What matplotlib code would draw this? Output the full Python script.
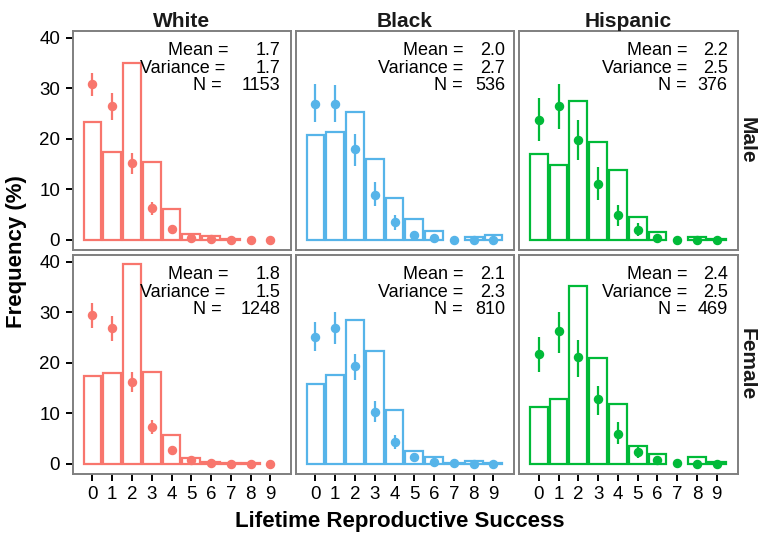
import numpy as np
import matplotlib
matplotlib.use("Agg")
import matplotlib.pyplot as plt

plt.rcParams['font.family'] = ['Liberation Sans', 'DejaVu Sans']

races = ["White", "Black", "Hispanic"]
sexes = ["Male", "Female"]
colors = {"White": "#F8766D", "Black": "#56B4E9", "Hispanic": "#00BA38"}
x_vals = list(range(10))
nan = np.nan

# Observed frequency (%) bars
bars_male_white    = [23.4, 17.4, 35.0, 15.5, 6.2, 1.1, 0.8, 0.15, nan, nan]
bars_male_black    = [20.8, 21.3, 25.2, 16.0, 8.3, 4.1, 1.8, nan, 0.65, 0.9]
bars_male_hispanic = [16.9, 14.8, 27.4, 19.3, 13.9, 4.5, 1.6, nan, 0.65, 0.26]
bars_female_white    = [17.3, 17.9, 39.5, 18.1, 5.7, 1.25, 0.3, 0.2, 0.2, nan]
bars_female_black    = [15.9, 17.5, 28.4, 22.4, 10.6, 2.6, 1.4, 0.15, 0.6, 0.2]
bars_female_hispanic = [11.3, 12.8, 35.2, 20.9, 11.9, 3.6, 1.9, nan, 1.4, 0.45]

# Expected points with intervals
pts_male_white = [30.8, 26.5, 15.2, 6.4, 2.1, 0.3, 0.15, 0.05, 0.0, 0.0]
lo_male_white  = [28.4, 23.8, 13.0, 4.9, 1.4, 0.0, 0.0, 0.0, 0.0, 0.0]
hi_male_white  = [33.0, 29.0, 17.2, 7.5, 2.8, 0.6, 0.3, 0.1, 0.0, 0.0]

pts_male_black = [26.9, 26.9, 17.9, 8.9, 3.5, 1.05, 0.3, 0.0, 0.0, 0.0]
lo_male_black  = [23.4, 23.3, 14.6, 6.7, 2.0, 0.3, 0.0, 0.0, 0.0, 0.0]
hi_male_black  = [30.9, 30.7, 20.9, 11.4, 4.9, 1.8, 0.6, 0.0, 0.0, 0.0]

pts_male_hispanic = [23.8, 26.5, 19.8, 11.1, 5.0, 1.9, 0.4, 0.0, 0.0, 0.0]
lo_male_hispanic  = [19.6, 21.9, 15.9, 7.9, 2.8, 0.8, 0.0, 0.0, 0.0, 0.0]
hi_male_hispanic  = [28.0, 30.9, 23.8, 14.4, 7.0, 3.3, 0.9, 0.0, 0.0, 0.0]

pts_female_white = [29.5, 26.8, 16.3, 7.4, 2.7, 0.7, 0.25, 0.05, 0.05, 0.0]
lo_female_white  = [26.8, 24.4, 14.3, 5.9, 2.0, 0.3, 0.0, 0.0, 0.0, 0.0]
hi_female_white  = [31.8, 29.2, 18.2, 8.7, 3.4, 1.1, 0.5, 0.1, 0.1, 0.0]

pts_female_black = [25.1, 26.8, 19.4, 10.3, 4.4, 1.45, 0.45, 0.1, 0.0, 0.0]
lo_female_black  = [22.4, 23.8, 16.5, 8.2, 3.0, 0.7, 0.1, 0.0, 0.0, 0.0]
hi_female_black  = [28.0, 30.0, 21.8, 12.5, 5.7, 2.2, 0.8, 0.2, 0.0, 0.0]

pts_female_hispanic = [21.7, 26.3, 21.1, 12.8, 6.0, 2.4, 0.85, 0.25, 0.0, 0.0]
lo_female_hispanic  = [18.2, 22.0, 17.1, 9.6, 4.0, 1.1, 0.2, 0.0, 0.0, 0.0]
hi_female_hispanic  = [25.1, 30.0, 24.6, 15.4, 8.2, 3.6, 1.5, 0.5, 0.0, 0.0]

mean_vals = {("Male", "White"): 1.7, ("Male", "Black"): 2.0, ("Male", "Hispanic"): 2.2,
             ("Female", "White"): 1.8, ("Female", "Black"): 2.1, ("Female", "Hispanic"): 2.4}
var_vals = {("Male", "White"): 1.7, ("Male", "Black"): 2.7, ("Male", "Hispanic"): 2.5,
            ("Female", "White"): 1.5, ("Female", "Black"): 2.3, ("Female", "Hispanic"): 2.5}
n_vals = {("Male", "White"): 1153, ("Male", "Black"): 536, ("Male", "Hispanic"): 376,
          ("Female", "White"): 1248, ("Female", "Black"): 810, ("Female", "Hispanic"): 469}

data = {
    ("Male", "White"): (bars_male_white, pts_male_white, lo_male_white, hi_male_white),
    ("Male", "Black"): (bars_male_black, pts_male_black, lo_male_black, hi_male_black),
    ("Male", "Hispanic"): (bars_male_hispanic, pts_male_hispanic, lo_male_hispanic, hi_male_hispanic),
    ("Female", "White"): (bars_female_white, pts_female_white, lo_female_white, hi_female_white),
    ("Female", "Black"): (bars_female_black, pts_female_black, lo_female_black, hi_female_black),
    ("Female", "Hispanic"): (bars_female_hispanic, pts_female_hispanic, lo_female_hispanic, hi_female_hispanic),
}

W, H = 758, 533
fig = plt.figure(figsize=(W / 100, H / 100), dpi=100)

col_left = [72.7, 295.7, 519.0]
pw = 218.5
row_top = [31.0, 255.0]
ph = 218.7

# label column right positions (axes fraction) per column / line
label_x = {"White": [0.712, 0.700, 0.682], "Black": [0.766, 0.766, 0.764], "Hispanic": [0.769, 0.769, 0.767]}
value_x = {"White": 0.950, "Black": 0.958, "Hispanic": 0.955}
line_y = [0.890, 0.807, 0.730]

for r, sex in enumerate(sexes):
    for c, race in enumerate(races):
        ax = fig.add_axes([col_left[c] / W, 1 - (row_top[r] + ph) / H, pw / W, ph / H])
        bars, pts, lo, hi = data[(sex, race)]
        col = colors[race]
        bx = [x for x, b in zip(x_vals, bars) if not np.isnan(b)]
        bh = [b for b in bars if not np.isnan(b)]
        ax.bar(bx, bh, width=0.9, fill=False, edgecolor=col, linewidth=1.6, zorder=2)
        pts_a = np.array(pts)
        yerr = np.vstack([pts_a - np.array(lo), np.array(hi) - pts_a])
        yerr = np.clip(yerr, 0, None)
        ax.errorbar(x_vals, pts, yerr=yerr, fmt='o', color=col, ms=5.8,
                    elinewidth=1.6, capsize=0, zorder=3)
        ax.set_xlim(-1.0, 10.05)
        ax.set_ylim(-1.92, 41.3)
        for s in ax.spines.values():
            s.set_color('#7F7F7F')
            s.set_linewidth(1.4)
        ax.tick_params(axis='both', length=5, width=1.4, color='black',
                       labelsize=13.5, pad=4)
        ax.set_xticks(x_vals)
        ax.set_yticks([0, 10, 20, 30, 40])
        if r == 1:
            ax.set_xticklabels([str(v) for v in x_vals])
        else:
            ax.tick_params(axis='x', length=0, labelbottom=False)
        if c != 0:
            ax.tick_params(axis='y', length=0, labelleft=False)

        lbls = ["Mean =", "Variance =", "N ="]
        vals = [f"{mean_vals[(sex, race)]:.1f}", f"{var_vals[(sex, race)]:.1f}", f"{n_vals[(sex, race)]}"]
        for i in range(3):
            ax.text(label_x[race][i], line_y[i], lbls[i], transform=ax.transAxes,
                    ha='right', va='baseline', fontsize=13, color='black')
            ax.text(value_x[race], line_y[i], vals[i], transform=ax.transAxes,
                    ha='right', va='baseline', fontsize=13, color='black')

        if r == 0:
            ax.text(0.5, 1 + 4.3 / ph, race, transform=ax.transAxes, ha='center',
                    va='baseline', fontsize=15, fontweight='bold', color='#1a1a1a')
        if c == 2:
            ax.text(1 + 10 / pw, 0.5, sex, transform=ax.transAxes, ha='center',
                    va='center', rotation=-90, fontsize=15, fontweight='bold', color='#1a1a1a')

fig.text(400 / W, 1 - 527 / H, "Lifetime Reproductive Success", ha='center', va='baseline',
         fontsize=16, fontweight='bold')
fig.text(17 / W, 1 - 252 / H, "Frequency (%)", ha='center', va='center', rotation=90,
         fontsize=16, fontweight='bold')

fig.savefig("out.png", dpi=100)
